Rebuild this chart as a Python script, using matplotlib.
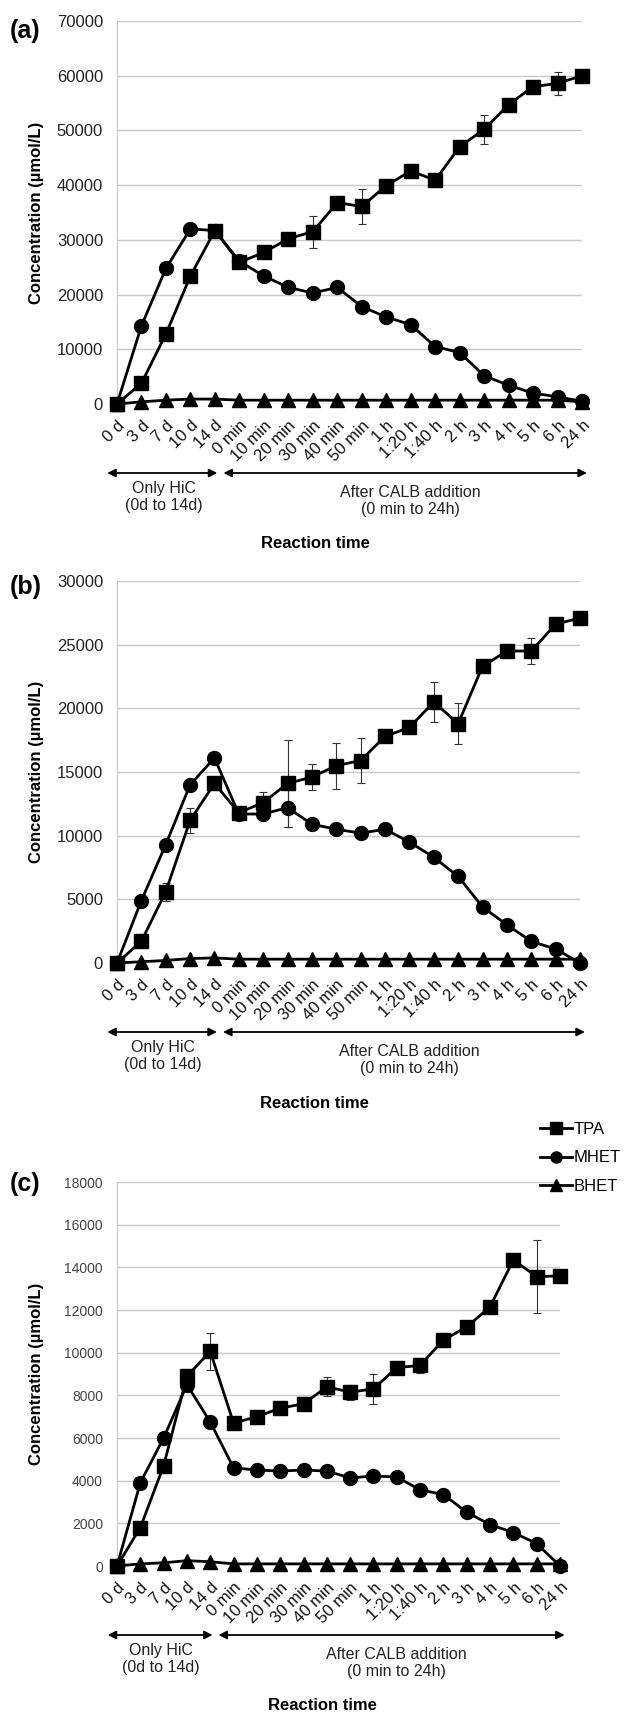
import matplotlib
matplotlib.use('Agg')
import matplotlib.pyplot as plt
from matplotlib.lines import Line2D
import numpy as np

plt.rcParams['font.family'] = ['Liberation Sans', 'DejaVu Sans']

times = ['0 d', '3 d', '7 d', '10 d', '14 d', '0 min', '10 min', '20 min', '30 min',
         '40 min', '50 min', '1 h', '1:20 h', '1:40 h', '2 h', '3 h', '4 h', '5 h', '6 h', '24 h']

# panel (a)
tpa_a = [0, 3800, 12800, 23400, 31700, 25900, 27700, 30200, 31500, 36800,
         36100, 39900, 42600, 40900, 47000, 50200, 54700, 58000, 58600, 60000]
tpa_a_err = [0, 0, 0, 0, 0, 0, 0, 0, 2900, 0, 3200, 0, 0, 0, 800, 2600, 800, 0, 2100, 700]
mhet_a = [0, 14300, 24800, 32000, 31700, 26100, 23400, 21300, 20300, 21300,
          17800, 15900, 14500, 10500, 9400, 5200, 3400, 2000, 1300, 500]
bhet_a = [0, 400, 700, 900, 900, 700, 700, 700, 700, 700,
          700, 700, 700, 700, 700, 700, 700, 700, 700, 400]

# panel (b)
tpa_b = [0, 1700, 5600, 11200, 14100, 11800, 12600, 14100, 14600, 15500,
         15900, 17800, 18500, 20500, 18800, 23300, 24500, 24500, 26600, 27100]
tpa_b_err = [0, 0, 700, 1000, 0, 0, 800, 3400, 1000, 1800, 1800, 0, 0, 1600, 1600, 0, 0, 1000, 0, 0]
mhet_b = [0, 4900, 9300, 14000, 16100, 11700, 11700, 12200, 10900, 10500,
          10200, 10500, 9500, 8300, 6800, 4400, 3000, 1700, 1100, 0]
mhet_b_err = [0, 0, 0, 0, 0, 0, 0, 1500, 0, 0, 0, 0, 0, 0, 0, 0, 0, 0, 0, 0]
bhet_b = [0, 100, 200, 350, 400, 300, 300, 300, 300, 300,
          300, 300, 300, 300, 300, 300, 300, 300, 300, 300]

# panel (c)
tpa_c = [0, 1800, 4700, 8900, 10060, 6700, 7000, 7400, 7600, 8400,
         8150, 8300, 9300, 9400, 10600, 11200, 12150, 14350, 13560, 13600]
tpa_c_err = [0, 0, 0, 0, 850, 0, 0, 0, 0, 450, 350, 700, 0, 350, 300, 0, 0, 0, 1700, 0]
mhet_c = [0, 3900, 6000, 8500, 6750, 4600, 4500, 4450, 4500, 4450,
          4130, 4220, 4170, 3570, 3350, 2520, 1940, 1570, 1050, 0]
bhet_c = [0, 100, 150, 250, 200, 100, 100, 100, 100, 100,
          100, 100, 100, 100, 100, 100, 100, 100, 100, 100]

series_names = ['TPA', 'MHET', 'BHET']
series_markers = ['s', 'o', '^']

fig = plt.figure(figsize=(6.24, 17.16), dpi=100)
W, H = 624.0, 1716.0


def panel(rect, tpa, tpa_err, mhet, mhet_err, bhet, ymax, ystep, tick_fs, tick_col,
          letter, letter_y, rt_x):
    left, top, right, bottom = rect
    ax = fig.add_axes([left / W, 1 - bottom / H, (right - left) / W, (bottom - top) / H])
    x = np.arange(len(times))
    for ys, err, m in [(tpa, tpa_err, 's'), (mhet, mhet_err, 'o'), (bhet, None, '^')]:
        ms = 10 if m == 'o' else 9.5
        if err is not None:
            ax.errorbar(x, ys, yerr=err, fmt='none', ecolor='#333333', elinewidth=0.8,
                        capsize=3, capthick=0.8, zorder=3, clip_on=False)
        ax.plot(x, ys, color='black', lw=2.0, marker=m, ms=ms, zorder=4, clip_on=False)

    ax.set_xlim(0, len(times) - 1)
    ax.set_ylim(0, ymax)
    ax.set_yticks(np.arange(0, ymax + 1, ystep))
    ax.grid(axis='y', color='#c8c8c8', lw=1.0)
    ax.set_axisbelow(True)
    for s in ['top', 'right', 'bottom']:
        ax.spines[s].set_visible(False)
    ax.spines['left'].set_color('#c8c8c8')
    ax.tick_params(axis='both', length=0)
    ax.tick_params(axis='y', labelsize=tick_fs, labelcolor=tick_col, pad=10)
    ax.set_xticks(x)
    ax.set_xticklabels(times, rotation=45, ha='right', rotation_mode='anchor',
                       fontsize=12, color='#111111')
    ax.tick_params(axis='x', pad=10)
    ax.set_ylabel('Concentration (µmol/L)', fontsize=12, fontweight='bold')
    ax.yaxis.set_label_coords(-73 / (right - left), 0.5)

    tr = ax.get_xaxis_transform()
    ah = (bottom - top)
    ay = -69 / ah
    ax.annotate('', xy=(-0.4, ay), xytext=(4.1, ay), xycoords=tr, textcoords=tr,
                arrowprops=dict(arrowstyle='<|-|>', color='black', lw=1.3,
                                mutation_scale=12, shrinkA=0, shrinkB=0), annotation_clip=False)
    ax.annotate('', xy=(4.35, ay), xytext=(19.2, ay), xycoords=tr, textcoords=tr,
                arrowprops=dict(arrowstyle='<|-|>', color='black', lw=1.3,
                                mutation_scale=12, shrinkA=0, shrinkB=0), annotation_clip=False)
    ax.text(1.9, -93 / ah, 'Only HiC\n(0d to 14d)', transform=tr, ha='center', va='center',
            fontsize=11.5, color='#222222', linespacing=1.15, clip_on=False)
    ax.text(12.0, -97 / ah, 'After CALB addition\n(0 min to 24h)', transform=tr, ha='center',
            va='center', fontsize=11.5, color='#222222', linespacing=1.15, clip_on=False)
    ax.text(rt_x, -140 / ah, 'Reaction time', transform=tr, ha='center', va='center',
            fontsize=12, fontweight='bold', clip_on=False)
    fig.text(10 / W, 1 - letter_y / H, letter, fontsize=18, fontweight='bold', va='center')
    return ax


panel((117, 21, 582, 404), tpa_a, tpa_a_err, mhet_a, None, bhet_a, 70000, 10000,
      12, '#222222', '(a)', 31, 8.1)
panel((117, 581, 580, 963), tpa_b, tpa_b_err, mhet_b, mhet_b_err, bhet_b, 30000, 5000,
      12, '#222222', '(b)', 587, 8.1)
ax_c = panel((117, 1182, 560, 1566), tpa_c, tpa_c_err, mhet_c, None, bhet_c, 18000, 2000,
             10, '#444444', '(c)', 1184, 8.8)

handles = [Line2D([], [], color='black', lw=2.0, marker=m, ms=8) for m in series_markers]
fig.legend(handles, series_names, loc='upper left', bbox_to_anchor=(540 / W, 1 - 1122 / H),
           frameon=False, fontsize=12, handlelength=1.9, handletextpad=0.1,
           labelspacing=0.8, borderpad=0, borderaxespad=0)

fig.savefig('out.png', dpi=100)
